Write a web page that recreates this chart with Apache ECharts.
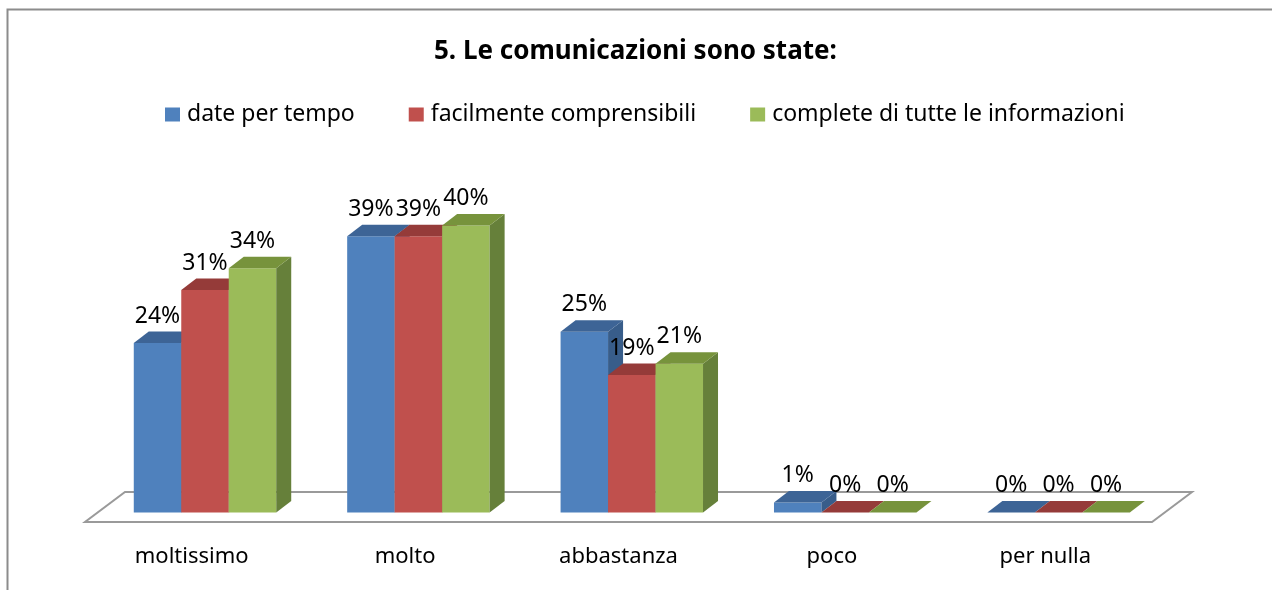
<!DOCTYPE html>
<html>
<head>
<meta charset="utf-8">
<script src="https://cdn.jsdelivr.net/npm/echarts/dist/echarts.min.js"></script>
<style>
  html, body { margin: 0; padding: 0; background: #fff; }
  #chart { width: 1272px; height: 590px; }
</style>
</head>
<body>
<div id="chart"></div>
<script type="text/javascript">
// dati (percentuali)
var categories = ['moltissimo', 'molto', 'abbastanza', 'poco', 'per nulla'];
var seriesNames = ['date per tempo', 'facilmente comprensibili', 'complete di tutte le informazioni'];
var datePerTempo = [23.8, 38.8, 25.4, 1.4, 0];
var facilmente = [31.25, 38.8, 19.3, 0, 0];
var complete = [34.3, 40.3, 20.9, 0, 0];
var allValues = [datePerTempo, facilmente, complete];

// colori facce: fronte, sopra, lato
var faceColors = [
  ['#4F81BD', '#3D6496', '#385D8A'],
  ['#C0504D', '#953B39', '#8C3836'],
  ['#9BBB59', '#77933C', '#66803A']
];

var FONT = '"Noto Sans", "Open Sans", sans-serif';
var FLOOR_DX = 40, FLOOR_DY = -30;   // profondita pavimento
var PLANE_DX = 13.3, PLANE_DY = -9.5; // piano delle barre
var BAR_DX = 15, BAR_DY = -11.5;      // profondita barra
var BAR_FRAC = 0.2225;

function barGeom(api, k) {
  var cat = api.value(0), v = api.value(1);
  var base = api.coord([cat, 0]);
  var top = api.coord([cat, v]);
  var band = api.size([1, 0])[0];
  var bw = band * BAR_FRAC;
  var x0 = base[0] - 1.5 * bw + k * bw + PLANE_DX;
  return { x0: x0, x1: x0 + bw, yb: base[1] + PLANE_DY, yt: top[1] + PLANE_DY, v: v };
}

function makeBarRender(k) {
  return function (params, api) {
    var g = barGeom(api, k);
    var c = faceColors[k];
    var children = [];
    if (g.yb - g.yt > 0.5) {
      children.push({ type: 'rect', shape: { x: g.x0, y: g.yt, width: g.x1 - g.x0, height: g.yb - g.yt }, style: { fill: c[0] } });
      children.push({ type: 'polygon', shape: { points: [[g.x1, g.yt], [g.x1 + BAR_DX, g.yt + BAR_DY], [g.x1 + BAR_DX, g.yb + BAR_DY], [g.x1, g.yb]] }, style: { fill: c[2] } });
    }
    children.push({ type: 'polygon', shape: { points: [[g.x0, g.yt], [g.x1, g.yt], [g.x1 + BAR_DX, g.yt + BAR_DY], [g.x0 + BAR_DX, g.yt + BAR_DY]] }, style: { fill: c[1] } });
    return { type: 'group', children: children };
  };
}

function makeLabelRender(k) {
  return function (params, api) {
    var g = barGeom(api, k);
    return {
      type: 'text',
      style: {
        text: Math.round(g.v) + '%',
        x: (g.x0 + g.x1) / 2,
        y: g.yt + BAR_DY - 4,
        textAlign: 'center',
        textVerticalAlign: 'bottom',
        fill: '#000',
        font: '23px ' + FONT
      }
    };
  };
}

var series = [];
// pavimento
series.push({
  type: 'custom',
  name: 'floor',
  z: 1,
  silent: true,
  data: [[0, 0]],
  renderItem: function (params, api) {
    var cs = params.coordSys;
    var yb = cs.y + cs.height;
    return {
      type: 'polygon',
      shape: { points: [[cs.x, yb], [cs.x + cs.width, yb], [cs.x + cs.width + FLOOR_DX, yb + FLOOR_DY], [cs.x + FLOOR_DX, yb + FLOOR_DY]] },
      style: { fill: '#fff', stroke: '#9a9a9a', lineWidth: 2 }
    };
  }
});
for (var k = 0; k < 3; k++) {
  var d = [];
  for (var i = 0; i < categories.length; i++) d.push([i, allValues[k][i]]);
  series.push({
    type: 'custom',
    name: seriesNames[k],
    z: 2 + k,
    itemStyle: { color: faceColors[k][0] },
    data: d,
    renderItem: makeBarRender(k)
  });
  series.push({
    type: 'custom',
    name: seriesNames[k] + ' label',
    z: 10,
    silent: true,
    data: d,
    renderItem: makeLabelRender(k)
  });
}

var chart = echarts.init(document.getElementById('chart'));
chart.setOption({
  animation: false,
  backgroundColor: '#fff',
  title: {
    text: '5. Le comunicazioni sono state:',
    left: 429,
    top: 34,
    textStyle: { fontFamily: FONT, fontSize: 26, fontWeight: 'bold', color: '#000' }
  },
  legend: {
    data: seriesNames,
    top: 98,
    left: 160,
    icon: 'rect',
    itemWidth: 15,
    itemHeight: 14,
    itemGap: 54,
    textStyle: { fontFamily: FONT, fontSize: 23, color: '#000', padding: [0, 0, 0, 2] }
  },
  graphic: [{
    type: 'rect',
    left: 5, top: 7,
    shape: { width: 1300, height: 700 },
    style: { fill: 'none', stroke: '#8c8c8c', lineWidth: 2 },
    silent: true
  }],
  grid: { left: 85, right: 120, top: 166, bottom: 68 },
  xAxis: {
    type: 'category',
    data: categories,
    axisLine: { show: false },
    axisTick: { show: false },
    axisLabel: { fontFamily: FONT, fontSize: 22, color: '#000', margin: 24 }
  },
  yAxis: {
    type: 'value',
    min: 0,
    max: 50,
    show: false,
    splitLine: { show: false }
  },
  series: series
});
</script>
</body>
</html>
